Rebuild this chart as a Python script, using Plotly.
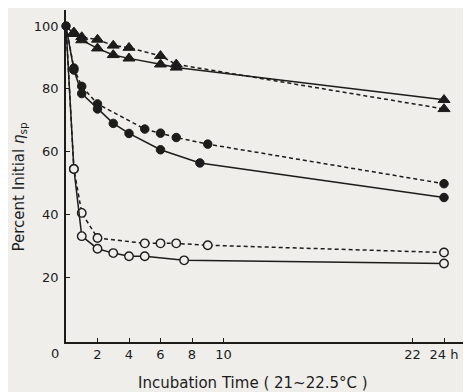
import plotly.graph_objects as go

# ---- data (hours, percent initial eta_sp) ----
tri_solid_t = [0, 0.5, 1, 2, 3, 4, 6, 7, 24]
tri_solid_v = [100, 97.5, 95.5, 92.9, 90.8, 89.7, 87.8, 86.8, 76.5]
tri_dash_t = [0, 0.5, 1, 2, 3, 4, 6, 7, 24]
tri_dash_v = [100, 98.0, 96.5, 95.7, 93.8, 93.1, 90.5, 87.8, 73.6]

fc_solid_t = [0, 0.5, 1, 2, 3, 4, 6, 8.5, 24]
fc_solid_v = [100, 86.0, 78.5, 73.6, 69.0, 65.8, 60.6, 56.4, 45.4]
fc_dash_t = [0, 0.5, 1, 2, 5, 6, 7, 9, 24]
fc_dash_v = [100, 86.6, 80.8, 75.2, 67.2, 65.9, 64.5, 62.4, 49.8]

oc_solid_t = [0, 0.5, 1, 2, 3, 4, 5, 7.5, 24]
oc_solid_v = [100, 54.5, 33.1, 29.1, 27.7, 26.7, 26.7, 25.4, 24.4]
oc_dash_t = [0, 0.5, 1, 2, 5, 6, 7, 9, 24]
oc_dash_v = [100, 54.5, 40.5, 32.5, 30.8, 30.8, 30.8, 30.2, 27.9]

x_tickvals = [2, 4, 6, 8, 10, 22, 24]
x_ticktext = ["2", "4", "6", "8", "10", "22", "24 h"]
y_tickvals = [20, 40, 60, 80, 100]

INK = "#1c1c1c"
BG = "#efeeeb"
FONT = "DejaVu Sans"

fig = go.Figure()


def add(t, v, symbol, dash, size, filled, first_marker=False):
    sizes = [size if (i > 0 or first_marker) else 0 for i in range(len(t))]
    fig.add_trace(go.Scatter(
        x=t, y=v, mode="lines+markers",
        line=dict(color=INK, width=1.5, dash=dash),
        marker=dict(symbol=symbol, size=sizes, opacity=1,
                    color=INK if filled else BG,
                    line=dict(color=INK, width=1 if filled else 1.4)),
        showlegend=False, cliponaxis=False))


add(oc_dash_t, oc_dash_v, "circle", "4px,3px", 8.5, False)
add(oc_solid_t, oc_solid_v, "circle", "solid", 8.5, False)
add(fc_dash_t, fc_dash_v, "circle", "4px,3px", 8.5, True)
add(fc_solid_t, fc_solid_v, "circle", "solid", 8.5, True, first_marker=True)
add(tri_dash_t, tri_dash_v, "triangle-up", "4px,3px", 10.5, True)
add(tri_solid_t, tri_solid_v, "triangle-up", "solid", 10.5, True)

# page has an 8px body margin; figure sized so the plot lands where the reference has it
OFF = 8
W, H = 471 - OFF, 392 - OFF
L, R, T, B = 66 - OFF, 1, 10 - OFF, 50
pw = W - L - R
ph = H - T - B

fig.update_layout(
    width=W, height=H,
    margin=dict(l=L, r=R, t=T, b=B),
    paper_bgcolor=BG, plot_bgcolor=BG,
    font=dict(family=FONT, size=13, color=INK),
    xaxis=dict(range=[0, 25.65], showgrid=False, zeroline=False,
               showline=True, linecolor=INK, linewidth=1.5,
               ticks="inside", ticklen=4, tickcolor=INK, tickwidth=1.2,
               tickvals=x_tickvals, ticktext=x_ticktext,
               tickfont=dict(size=13, color=INK)),
    yaxis=dict(range=[-0.6, 105.1], showgrid=False, zeroline=False,
               showline=True, linecolor=INK, linewidth=1.5,
               ticks="inside", ticklen=4, tickcolor=INK, tickwidth=1.2,
               tickvals=y_tickvals, ticklabelstandoff=3,
               tickfont=dict(size=13, color=INK)),
)


def px2paper_x(px):
    return (px - OFF - L) / pw


def px2paper_y(py):
    return (H - B - (py - OFF)) / ph


common = dict(xref="paper", yref="paper", showarrow=False,
              xanchor="center", yanchor="middle", borderpad=0)
fig.add_annotation(text="0", x=px2paper_x(55), y=px2paper_y(353),
                   font=dict(size=13, color=INK), **common)
fig.add_annotation(text="Incubation Time ( 21~22.5°C )",
                   x=px2paper_x(253), y=px2paper_y(383),
                   font=dict(size=15, color=INK), **common)
fig.add_annotation(text="Percent Initial <i>η</i><sub>sp</sub>",
                   x=px2paper_x(18.5), y=px2paper_y(187), textangle=-90,
                   font=dict(size=15, color=INK), **common)

fig.write_html("out.html")
